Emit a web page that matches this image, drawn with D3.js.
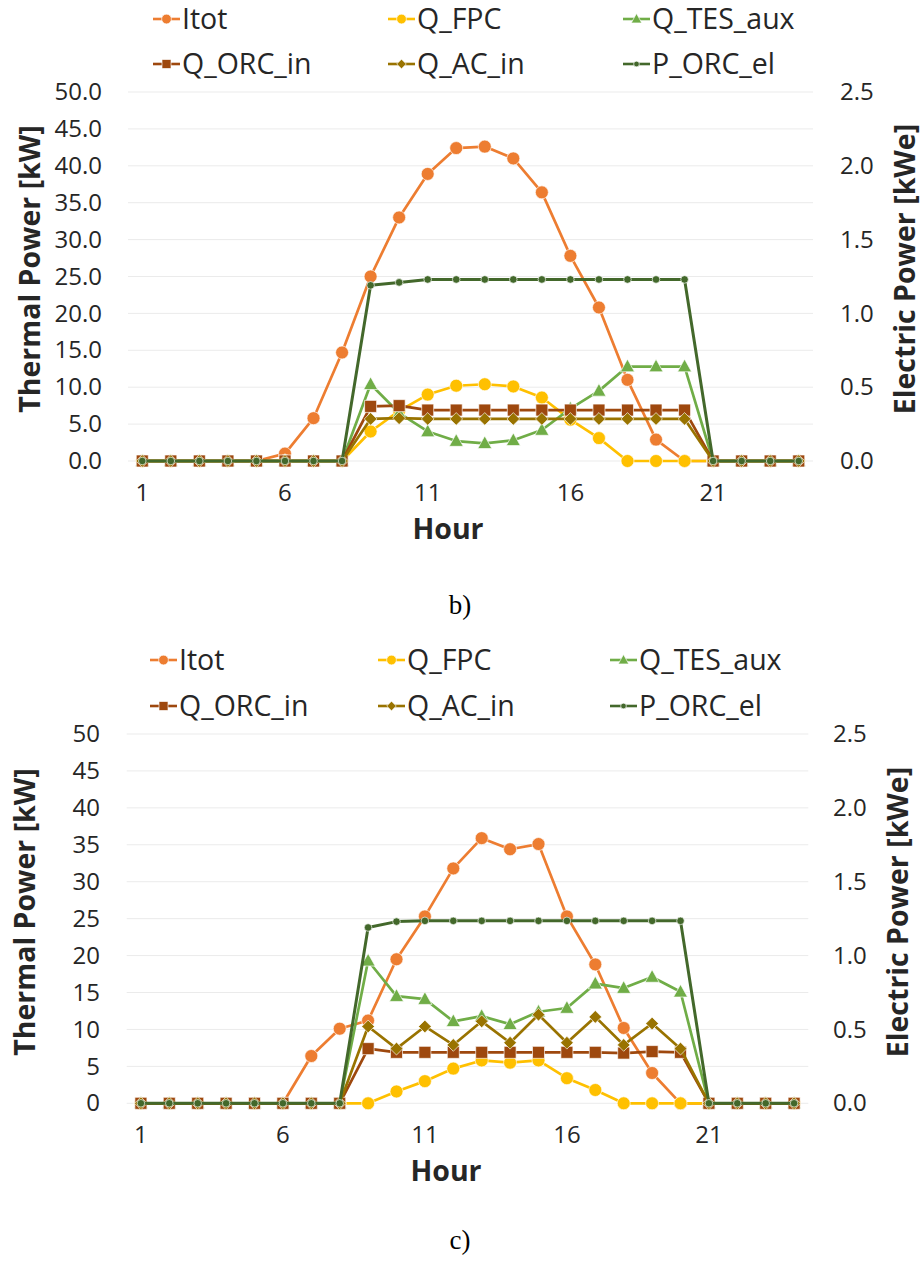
<!DOCTYPE html>
<html>
<head>
<meta charset="utf-8">
<script src="https://cdn.jsdelivr.net/npm/d3@7"></script>
<style>
  body { margin: 0; background: #fff; }
  text { font-family: 'Open Sans', sans-serif; fill: #262626; }
  text.caption { font-family: 'Liberation Serif', serif; fill: #000; }
</style>
</head>
<body>
<div id="chart"></div>
<script>
// hours of the day (category axis)
var hours = [1,2,3,4,5,6,7,8,9,10,11,12,13,14,15,16,17,18,19,20,21,22,23,24];
var hourTicks = [1, 6, 11, 16, 21];
var thermalTicks = [0, 5, 10, 15, 20, 25, 30, 35, 40, 45, 50];
var electricTicks = [0, 0.5, 1.0, 1.5, 2.0, 2.5];
var seriesNames = ['Itot', 'Q_FPC', 'Q_TES_aux', 'Q_ORC_in', 'Q_AC_in', 'P_ORC_el'];

// panel b)
var itotB   = [0,0,0,0,0,1.0,5.8,14.7,25.0,33.0,38.9,42.4,42.6,41.0,36.4,27.8,20.8,11.0,2.9,0,0,0,0,0];
var fpcB    = [0,0,0,0,0,0,0,0,4.0,6.8,9.0,10.2,10.4,10.1,8.6,5.6,3.1,0,0,0,0,0,0,0];
var tesB    = [0,0,0,0,0,0,0,0,10.4,6.5,4.0,2.7,2.4,2.8,4.2,7.1,9.5,12.8,12.8,12.8,0,0,0,0];
var orcInB  = [0,0,0,0,0,0,0,0,7.4,7.5,6.9,6.9,6.9,6.9,6.9,6.9,6.9,6.9,6.9,6.9,0,0,0,0];
var acInB   = [0,0,0,0,0,0,0,0,5.7,5.8,5.7,5.7,5.7,5.7,5.7,5.7,5.7,5.7,5.7,5.7,0,0,0,0];
var pElB    = [0,0,0,0,0,0,0,0,1.19,1.21,1.23,1.23,1.23,1.23,1.23,1.23,1.23,1.23,1.23,1.23,0,0,0,0];

// panel c)
var itotC   = [0,0,0,0,0,0,6.4,10.1,11.2,19.5,25.3,31.8,35.9,34.4,35.1,25.3,18.8,10.2,4.1,0,0,0,0,0];
var fpcC    = [0,0,0,0,0,0,0,0,0,1.6,3.0,4.7,5.8,5.5,5.8,3.4,1.8,0,0,0,0,0,0,0];
var tesC    = [0,0,0,0,0,0,0,0,19.3,14.5,14.1,11.1,11.8,10.7,12.4,12.9,16.2,15.6,17.1,15.1,0,0,0,0];
var orcInC  = [0,0,0,0,0,0,0,0,7.4,6.9,6.9,6.9,6.9,6.9,6.9,6.9,6.9,6.8,7.0,6.9,0,0,0,0];
var acInC   = [0,0,0,0,0,0,0,0,10.4,7.4,10.4,7.9,11.1,8.2,12.0,8.2,11.7,7.9,10.8,7.4,0,0,0,0];
var pElC    = [0,0,0,0,0,0,0,0,1.19,1.23,1.235,1.235,1.235,1.235,1.235,1.235,1.235,1.235,1.235,1.235,0,0,0,0];

var width = 922,
	height = 1272;

var styles = [
	{ color: '#ED7D31', shape: 'circle',   size: 6.5 },
	{ color: '#FFC000', shape: 'circle',   size: 6.5 },
	{ color: '#70AD47', shape: 'triangle', size: 7 },
	{ color: '#9E480E', shape: 'square',   size: 6 },
	{ color: '#997300', shape: 'diamond',  size: 5.3 },
	{ color: '#43682B', shape: 'circle',   size: 3.8 }
];

var svg = d3.select('#chart').append('svg')
	.attr('width', width)
	.attr('height', height);

var marker = function(sel, st) {
	var s = st.size, p;
	if (st.shape === 'circle') {
		sel.append('circle').attr('r', s);
	} else {
		if (st.shape === 'square') p = [[-s,-s],[s,-s],[s,s],[-s,s]];
		if (st.shape === 'diamond') p = [[0,-s*1.2],[s*1.2,0],[0,s*1.2],[-s*1.2,0]];
		if (st.shape === 'triangle') p = [[0,-s*1.05],[s,s*0.75],[-s,s*0.75]];
		sel.append('path').attr('d', 'M' + p.join('L') + 'Z');
	}
	sel.selectAll('*')
		.attr('fill', st.color)
		.attr('stroke', 'rgba(255,255,255,0.65)')
		.attr('stroke-width', 1);
};

var drawPanel = function(cfg) {
	var g = svg.append('g');

	var x = d3.scaleBand().domain(hours).range([cfg.left, cfg.right]);
	var yL = d3.scaleLinear().domain([0, 50]).range([cfg.bottom, cfg.top]);
	var yR = d3.scaleLinear().domain([0, 2.5]).range([cfg.bottom, cfg.top]);
	var cx = function(h) { return x(h) + x.bandwidth() / 2; };

	// gridlines
	g.append('g').selectAll('line').data(thermalTicks).enter().append('line')
		.attr('x1', cfg.left).attr('x2', cfg.right)
		.attr('y1', function(d) { return yL(d); })
		.attr('y2', function(d) { return yL(d); })
		.attr('stroke', '#EBEBEB')
		.attr('stroke-width', 1);

	// left axis
	var leftAxis = g.append('g')
		.attr('transform', 'translate(' + cfg.tickLeftX + ',0)')
		.call(d3.axisLeft(yL).tickValues(thermalTicks).tickFormat(d3.format(cfg.leftFormat)).tickSize(0).tickPadding(0));
	// right axis
	var rightAxis = g.append('g')
		.attr('transform', 'translate(' + cfg.tickRightX + ',0)')
		.call(d3.axisRight(yR).tickValues(electricTicks).tickFormat(d3.format('.1f')).tickSize(0).tickPadding(0));
	// bottom axis
	var bottomAxis = g.append('g')
		.attr('transform', 'translate(0,' + cfg.xTickY + ')')
		.call(d3.axisBottom(x).tickValues(hourTicks).tickSize(0).tickPadding(0));

	[leftAxis, rightAxis, bottomAxis].forEach(function(a) {
		a.select('.domain').remove();
		a.selectAll('text')
			.attr('font-family', "'Open Sans', sans-serif")
			.attr('font-size', 24)
			.attr('fill', '#262626');
	});

	// axis titles
	g.append('text')
		.attr('transform', 'translate(' + cfg.titleLX + ',' + cfg.titleLY + ') rotate(-90)')
		.attr('text-anchor', 'middle')
		.attr('font-size', 28.5)
		.attr('font-weight', 'bold')
		.text('Thermal Power [kW]');
	g.append('text')
		.attr('transform', 'translate(' + cfg.titleRX + ',' + cfg.titleLY + ') rotate(-90)')
		.attr('text-anchor', 'middle')
		.attr('font-size', 28.5)
		.attr('font-weight', 'bold')
		.text('Electric Power [kWe]');
	g.append('text')
		.attr('x', cfg.hourX)
		.attr('y', cfg.hourY)
		.attr('text-anchor', 'middle')
		.attr('font-size', 28.5)
		.attr('font-weight', 'bold')
		.text('Hour');

	// series
	cfg.data.forEach(function(vals, i) {
		var st = styles[i];
		var y = i === 5 ? yR : yL;
		var line = d3.line()
			.x(function(d, j) { return cx(hours[j]); })
			.y(function(d) { return y(d); });
		var sg = g.append('g');
		sg.append('path')
			.datum(vals)
			.attr('d', line)
			.attr('fill', 'none')
			.attr('stroke', st.color)
			.attr('stroke-width', i === 5 ? 3 : 2.7)
			.attr('stroke-linejoin', 'round');
		sg.selectAll('g.pt').data(vals).enter().append('g')
			.attr('class', 'pt')
			.attr('transform', function(d, j) { return 'translate(' + cx(hours[j]) + ',' + y(d) + ')'; })
			.each(function() { marker(d3.select(this), st); });
	});

	// legend
	seriesNames.forEach(function(name, i) {
		var lx = cfg.legendX[i % 3],
			ly = cfg.legendY[Math.floor(i / 3)];
		var lg = g.append('g').attr('transform', 'translate(' + lx + ',' + ly + ')');
		lg.append('line')
			.attr('x1', 0).attr('x2', 27)
			.attr('stroke', styles[i].color)
			.attr('stroke-width', 2.6);
		var m = lg.append('g').attr('transform', 'translate(13.5,0)');
		marker(m, { color: styles[i].color, shape: styles[i].shape, size: styles[i].size * 0.75 });
		lg.append('text')
			.attr('x', 29)
			.attr('dy', '0.35em')
			.attr('font-size', 28.5)
			.text(name);
	});

	// caption
	svg.append('text')
		.attr('class', 'caption')
		.attr('x', 460)
		.attr('y', cfg.captionY)
		.attr('text-anchor', 'middle')
		.attr('font-size', 27)
		.text(cfg.caption);
};

drawPanel({
	data: [itotB, fpcB, tesB, orcInB, acInB, pElB],
	left: 128, right: 813, top: 92, bottom: 461,
	leftFormat: '.1f',
	tickLeftX: 102, tickRightX: 840, xTickY: 484,
	titleLX: 40, titleRX: 915, titleLY: 269,
	hourX: 448, hourY: 539,
	legendX: [153, 388, 623], legendY: [19, 64],
	caption: 'b)', captionY: 614
});

drawPanel({
	data: [itotC, fpcC, tesC, orcInC, acInC, pElC],
	left: 126.7, right: 808.3, top: 734, bottom: 1103.3,
	leftFormat: 'd',
	tickLeftX: 100, tickRightX: 833, xTickY: 1126,
	titleLX: 35, titleRX: 908, titleLY: 912,
	hourX: 446, hourY: 1181,
	legendX: [150, 378, 610], legendY: [660, 706],
	caption: 'c)', captionY: 1249
});
</script>
</body>
</html>
